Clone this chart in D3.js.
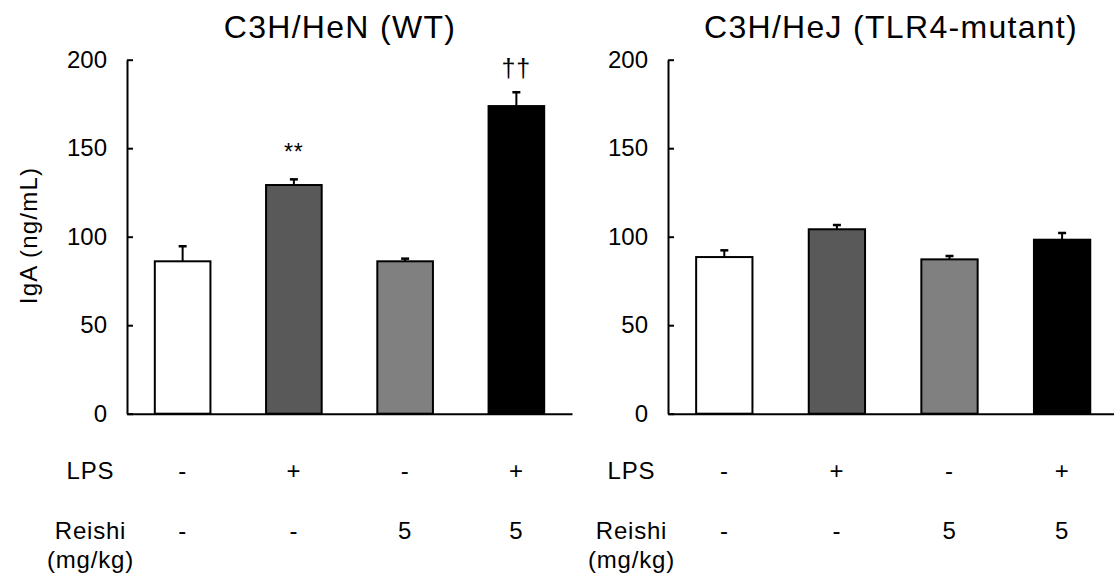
<!DOCTYPE html>
<html>
<head>
<meta charset="utf-8">
<script src="https://cdn.jsdelivr.net/npm/d3@7"></script>
<style>
  html, body { margin: 0; padding: 0; background: #fff; }
  svg { display: block; font-family: "Liberation Sans", Arial, sans-serif; }
</style>
</head>
<body>
<svg id="chart" width="1114" height="576"></svg>
<script>
// ========================
// Data
// ========================
const groups = ["ctrl", "lps", "reishi", "lps+reishi"];
const lpsRow = ["-", "+", "-", "+"];
const reishiRow = ["-", "-", "5", "5"];
const yTicks = [0, 50, 100, 150, 200];

const wtTitle = "C3H/HeN (WT)";
const wtMean = [86.1, 129.2, 86.1, 173.8];
const wtErr = [8.5, 3.2, 1.5, 7.8];
const wtMarks = ["", "**", "", "††"];

const mutTitle = "C3H/HeJ (TLR4-mutant)";
const mutMean = [88.5, 104.2, 87.2, 98.3];
const mutErr = [3.8, 2.4, 1.9, 3.8];
const mutMarks = ["", "", "", ""];

const barFill = ["#ffffff", "#595959", "#808080", "#000000"];

// ========================
// Setup
// ========================
const svg = d3.select("#chart");

const y = d3.scaleLinear()
    .domain([0, 200])
    .range([413.7, 59.7]);

function drawPanel(opt) {
    const x = d3.scaleBand()
        .domain(groups)
        .range([opt.x0, opt.x1])
        .paddingInner(0.5)
        .paddingOuter(0.25);

    const g = svg.append("g");

    // Title
    g.append("text")
        .attr("x", opt.titleX)
        .attr("y", 38)
        .attr("text-anchor", "middle")
        .style("font-size", "32px")
        .style("letter-spacing", "1.3px")
        .text(opt.title);

    // Bars
    const rows = groups.map((k, i) => ({ key: k, mean: opt.mean[i], err: opt.err[i], mark: opt.marks[i], fill: barFill[i] }));

    g.selectAll("rect.bar")
        .data(rows)
        .enter()
        .append("rect")
        .attr("class", "bar")
        .attr("x", d => x(d.key))
        .attr("y", d => y(d.mean))
        .attr("width", x.bandwidth())
        .attr("height", d => y(0) - y(d.mean))
        .attr("fill", d => d.fill)
        .attr("stroke", "#000")
        .attr("stroke-width", 2);

    // Error bars (upper only)
    const cx = d => x(d.key) + x.bandwidth() / 2;
    g.selectAll("line.err")
        .data(rows)
        .enter()
        .append("line")
        .attr("class", "err")
        .attr("x1", cx).attr("x2", cx)
        .attr("y1", d => y(d.mean))
        .attr("y2", d => y(d.mean + d.err))
        .attr("stroke", "#000")
        .attr("stroke-width", 2);

    g.selectAll("line.cap")
        .data(rows)
        .enter()
        .append("line")
        .attr("class", "cap")
        .attr("x1", d => cx(d) - 4).attr("x2", d => cx(d) + 4)
        .attr("y1", d => y(d.mean + d.err))
        .attr("y2", d => y(d.mean + d.err))
        .attr("stroke", "#000")
        .attr("stroke-width", 2.5);

    // Significance marks
    g.selectAll("text.mark")
        .data(rows.filter(d => d.mark))
        .enter()
        .append("text")
        .attr("class", "mark")
        .attr("x", cx)
        .attr("y", d => d.mark === "**" ? 160 : 77)
        .attr("text-anchor", "middle")
        .style("font-size", d => d.mark === "**" ? "23px" : "25px")
        .style("letter-spacing", "1px")
        .text(d => d.mark);

    // Y axis (ticks point inward)
    const yAxis = g.append("g")
        .attr("transform", `translate(${opt.x0},0)`)
        .call(d3.axisLeft(y).tickValues(yTicks).tickSizeInner(-6).tickSizeOuter(0).tickPadding(20));
    yAxis.attr("font-family", null).attr("font-size", null);
    yAxis.select(".domain").attr("stroke-width", 2);
    yAxis.selectAll(".tick line").attr("stroke-width", 2);
    yAxis.selectAll(".tick text")
        .attr("fill", "#000")
        .style("font-size", "24px");

    // X axis baseline
    const xAxis = g.append("g")
        .attr("transform", `translate(0,${y(0)})`)
        .call(d3.axisBottom(x).tickSize(0).tickSizeOuter(0).tickFormat(""));
    xAxis.select(".domain").attr("stroke-width", 2);
    xAxis.selectAll(".tick").remove();

    // Category rows under the chart
    const labelX = opt.x0 - 36.5;
    const cat = g.append("g")
        .style("font-size", "24px")
        .style("letter-spacing", "0.8px")
        .attr("text-anchor", "middle");

    cat.append("text").attr("x", labelX).attr("y", 479).text("LPS");
    cat.append("text").attr("x", labelX).attr("y", 539).text("Reishi");
    cat.append("text").attr("x", labelX).attr("y", 568).text("(mg/kg)");

    cat.selectAll("text.lps")
        .data(groups)
        .enter()
        .append("text")
        .attr("class", "lps")
        .attr("x", d => x(d) + x.bandwidth() / 2)
        .attr("y", 479)
        .text((d, i) => lpsRow[i]);

    cat.selectAll("text.reishi")
        .data(groups)
        .enter()
        .append("text")
        .attr("class", "reishi")
        .attr("x", d => x(d) + x.bandwidth() / 2)
        .attr("y", 539)
        .text((d, i) => reishiRow[i]);
}

drawPanel({ title: wtTitle, mean: wtMean, err: wtErr, marks: wtMarks, x0: 127, x1: 572, titleX: 340 });
drawPanel({ title: mutTitle, mean: mutMean, err: mutErr, marks: mutMarks, x0: 668, x1: 1118.4, titleX: 891 });

// Y axis title (left panel only)
svg.append("text")
    .attr("transform", "translate(37,235.5) rotate(-90)")
    .attr("text-anchor", "middle")
    .style("font-size", "24px")
    .style("letter-spacing", "1.2px")
    .text("IgA (ng/mL)");
</script>
</body>
</html>
